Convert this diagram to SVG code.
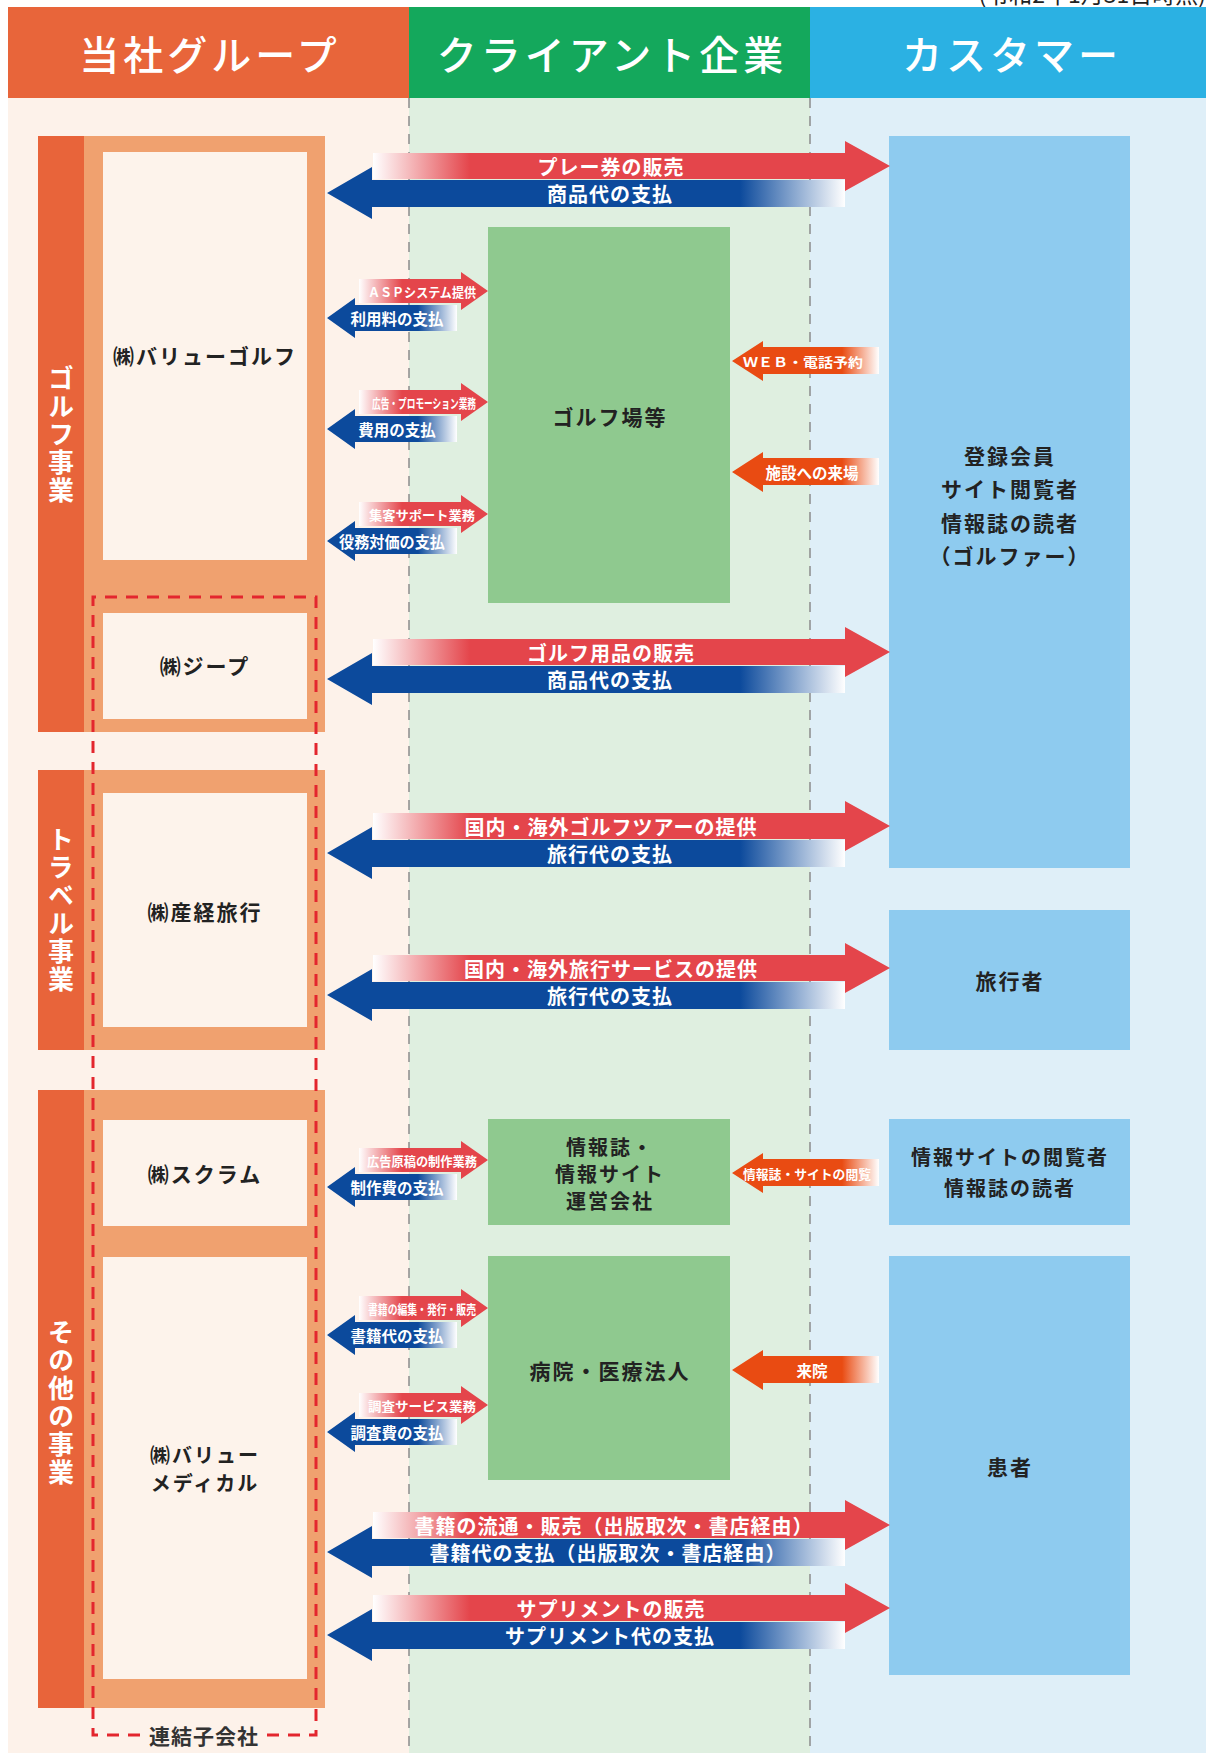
<svg xmlns="http://www.w3.org/2000/svg" width="1206" height="1753" viewBox="0 0 1206 1753">
<defs>
<style>
.hd{font-family:"Noto Sans CJK JP","Noto Sans",sans-serif;font-size:40px;font-weight:500;fill:#fff;text-anchor:middle;dominant-baseline:central;letter-spacing:4px}
.vt{font-family:"Noto Sans CJK JP","Noto Sans",sans-serif;font-size:26px;font-weight:700;fill:#fff;text-anchor:middle;writing-mode:vertical-rl;letter-spacing:2px}
.nd{font-family:"Noto Sans CJK JP","Noto Sans",sans-serif;font-size:21px;font-weight:700;fill:#222;text-anchor:middle;dominant-baseline:central;letter-spacing:2px}
.nd2{font-family:"Noto Sans CJK JP","Noto Sans",sans-serif;font-size:20px;font-weight:700;fill:#222;text-anchor:middle;dominant-baseline:central;letter-spacing:2px}
.bl{font-family:"Noto Sans CJK JP","Noto Sans",sans-serif;font-size:20px;font-weight:700;fill:#fff;text-anchor:middle;dominant-baseline:central;letter-spacing:1px}
.sl{font-family:"Noto Sans CJK JP","Noto Sans",sans-serif;font-size:13px;font-weight:700;fill:#fff;text-anchor:middle;dominant-baseline:central}
.sb{font-family:"Noto Sans CJK JP","Noto Sans",sans-serif;font-size:15.5px;font-weight:700;fill:#fff;text-anchor:middle;dominant-baseline:central}
.bar{fill:#E8643A}
.frame{fill:#F0A16F}
.inner{fill:#FDF3EB}
.gbox{fill:#8FC98F}
.cbox{fill:#8ECBEF}
.gl{stroke:#8c8c8c;stroke-width:1.5;stroke-dasharray:10 8;fill:none}
</style>
<linearGradient id="gRed" gradientUnits="userSpaceOnUse" x1="373" y1="0" x2="470" y2="0"><stop offset="0" stop-color="#fff"/><stop offset="1" stop-color="#E4454B"/></linearGradient>
<linearGradient id="gBlue" gradientUnits="userSpaceOnUse" x1="740" y1="0" x2="845" y2="0"><stop offset="0" stop-color="#0C4A9C"/><stop offset="1" stop-color="#fff"/></linearGradient>
<linearGradient id="sRed" gradientUnits="userSpaceOnUse" x1="359" y1="0" x2="402" y2="0"><stop offset="0" stop-color="#fff"/><stop offset="1" stop-color="#E4454B"/></linearGradient>
<linearGradient id="sBlue" gradientUnits="userSpaceOnUse" x1="418" y1="0" x2="457" y2="0"><stop offset="0" stop-color="#0C4A9C"/><stop offset="1" stop-color="#fff"/></linearGradient>
<linearGradient id="sOr" gradientUnits="userSpaceOnUse" x1="842" y1="0" x2="879" y2="0"><stop offset="0" stop-color="#E94B12"/><stop offset="1" stop-color="#fff"/></linearGradient>
</defs>

<rect x="0" y="0" width="1206" height="1753" fill="#fff"/>
<text x="1206" y="3" font-family="'Noto Sans CJK JP','Noto Sans',sans-serif" font-size="23" fill="#222" text-anchor="end">(令和2年1月31日時点)</text>

<!-- header -->
<g id="header">
<rect x="8" y="7" width="401" height="91" fill="#E8653A"/>
<rect x="409" y="7" width="401" height="91" fill="#14A85C"/>
<rect x="810" y="7" width="396" height="91" fill="#2BB1E3"/>
<text class="hd" x="210" y="53">当社グループ</text>
<text class="hd" x="612" y="53">クライアント企業</text>
<text class="hd" x="1012" y="53">カスタマー</text>
</g>

<!-- body backgrounds -->
<g id="columns">
<rect x="8" y="98" width="401" height="1655" fill="#FDF2EA"/>
<rect x="409" y="98" width="401" height="1655" fill="#DFEFE0"/>
<rect x="810" y="98" width="396" height="1655" fill="#DFEFF8"/>
<line class="gl" x1="409" y1="98" x2="409" y2="1753"/>
<line class="gl" x1="810" y1="98" x2="810" y2="1753"/>
</g>

<!-- golf section -->
<g id="golf-section">
<rect class="bar" x="38" y="136" width="46" height="596"/>
<rect class="frame" x="84" y="136" width="241" height="596"/>
<text class="vt" x="61" y="435">ゴルフ事業</text>
</g>
<g id="value-golf">
<rect class="inner" x="103" y="152" width="204" height="408"/>
<text class="nd" x="205" y="355">㈱バリューゴルフ</text>
</g>
<g id="jeep">
<rect class="inner" x="103" y="613" width="204" height="106"/>
<text class="nd" x="205" y="665">㈱ジープ</text>
</g>

<!-- travel section -->
<g id="travel-section">
<rect class="bar" x="38" y="770" width="46" height="280"/>
<rect class="frame" x="84" y="770" width="241" height="280"/>
<text class="vt" x="61" y="910">トラベル事業</text>
</g>
<g id="sankei">
<rect class="inner" x="103" y="793" width="204" height="234"/>
<text class="nd" x="205" y="911">㈱産経旅行</text>
</g>

<!-- other section -->
<g id="other-section">
<rect class="bar" x="38" y="1090" width="46" height="618"/>
<rect class="frame" x="84" y="1090" width="241" height="618"/>
<text class="vt" x="61" y="1403">その他の事業</text>
</g>
<g id="scrum">
<rect class="inner" x="103" y="1120" width="204" height="106"/>
<text class="nd" x="205" y="1173">㈱スクラム</text>
</g>
<g id="value-medical">
<rect class="inner" x="103" y="1257" width="204" height="422"/>
<text class="nd2" x="205" y="1454">㈱バリュー</text>
<text class="nd2" x="205" y="1482">メディカル</text>
</g>

<!-- consolidated subsidiaries -->
<g id="consolidated">
<path d="M140,1735 H93 V597 H316 V1735 H267" fill="none" stroke="#E3262E" stroke-width="3" stroke-dasharray="12 9"/>
<text x="204" y="1735" font-family="'Noto Sans CJK JP','Noto Sans',sans-serif" font-size="21" font-weight="700" fill="#333" text-anchor="middle" dominant-baseline="central" letter-spacing="1">連結子会社</text>
</g>

<!-- client column -->
<g id="golf-course">
<rect class="gbox" x="488" y="227" width="242" height="376"/>
<text class="nd" x="610" y="416">ゴルフ場等</text>
</g>
<g id="info-site-co">
<rect class="gbox" x="488" y="1119" width="242" height="106"/>
<text class="nd2" x="610" y="1146">情報誌・</text>
<text class="nd2" x="610" y="1173">情報サイト</text>
<text class="nd2" x="610" y="1200">運営会社</text>
</g>
<g id="hospital">
<rect class="gbox" x="488" y="1256" width="242" height="224"/>
<text class="nd" x="610" y="1370">病院・医療法人</text>
</g>

<!-- customer column -->
<g id="golfers">
<rect class="cbox" x="889" y="136" width="241" height="732"/>
<text class="nd" x="1010" y="455">登録会員</text>
<text class="nd" x="1010" y="488">サイト閲覧者</text>
<text class="nd" x="1010" y="522">情報誌の読者</text>
<text class="nd" x="1010" y="555">（ゴルファー）</text>
</g>
<g id="travelers">
<rect class="cbox" x="889" y="910" width="241" height="140"/>
<text class="nd" x="1010" y="980">旅行者</text>
</g>
<g id="readers">
<rect class="cbox" x="889" y="1119" width="241" height="106"/>
<text class="nd2" x="1010" y="1156">情報サイトの閲覧者</text>
<text class="nd2" x="1010" y="1187">情報誌の読者</text>
</g>
<g id="patients">
<rect class="cbox" x="889" y="1256" width="241" height="419"/>
<text class="nd" x="1010" y="1466">患者</text>
</g>

<!-- connectors -->
<g id="connectors">
<!-- big pair 1 y=166 -->
<path d="M845,180 L372,180 L372,167 L327,193 L372,219 L372,207 L845,207 Z" fill="url(#gBlue)"/>
<path d="M373,153 L845,153 L845,141 L890,166 L845,191 L845,179 L373,179 Z" fill="url(#gRed)"/>
<text class="bl" x="611" y="166">プレー券の販売</text>
<text class="bl" x="610" y="193">商品代の支払</text>
<!-- big pair 2 y=652 -->
<path d="M845,666 L372,666 L372,653 L327,679 L372,705 L372,693 L845,693 Z" fill="url(#gBlue)"/>
<path d="M373,639 L845,639 L845,627 L890,652 L845,677 L845,665 L373,665 Z" fill="url(#gRed)"/>
<text class="bl" x="611" y="652">ゴルフ用品の販売</text>
<text class="bl" x="610" y="679">商品代の支払</text>
<!-- big pair 3 y=826 -->
<path d="M845,840 L372,840 L372,827 L327,853 L372,879 L372,867 L845,867 Z" fill="url(#gBlue)"/>
<path d="M373,813 L845,813 L845,801 L890,826 L845,851 L845,839 L373,839 Z" fill="url(#gRed)"/>
<text class="bl" x="611" y="826">国内・海外ゴルフツアーの提供</text>
<text class="bl" x="610" y="853">旅行代の支払</text>
<!-- big pair 4 y=968 -->
<path d="M845,982 L372,982 L372,969 L327,995 L372,1021 L372,1009 L845,1009 Z" fill="url(#gBlue)"/>
<path d="M373,955 L845,955 L845,943 L890,968 L845,993 L845,981 L373,981 Z" fill="url(#gRed)"/>
<text class="bl" x="611" y="968">国内・海外旅行サービスの提供</text>
<text class="bl" x="610" y="995">旅行代の支払</text>
<!-- big pair 5 y=1525 -->
<path d="M845,1539 L372,1539 L372,1526 L327,1552 L372,1578 L372,1566 L845,1566 Z" fill="url(#gBlue)"/>
<path d="M373,1512 L845,1512 L845,1500 L890,1525 L845,1550 L845,1538 L373,1538 Z" fill="url(#gRed)"/>
<text class="bl" x="614" y="1525">書籍の流通・販売（出版取次・書店経由）</text>
<text class="bl" x="608" y="1552">書籍代の支払（出版取次・書店経由）</text>
<!-- big pair 6 y=1608 -->
<path d="M845,1622 L372,1622 L372,1609 L327,1635 L372,1661 L372,1649 L845,1649 Z" fill="url(#gBlue)"/>
<path d="M373,1595 L845,1595 L845,1583 L890,1608 L845,1633 L845,1621 L373,1621 Z" fill="url(#gRed)"/>
<text class="bl" x="611" y="1608">サプリメントの販売</text>
<text class="bl" x="610" y="1635">サプリメント代の支払</text>

<!-- small pairs -->
<path d="M359,279 L461,279 L461,272 L488,291 L461,310 L461,303 L359,303 Z" fill="url(#sRed)"/>
<path d="M457,305 L355,305 L355,298 L327,318 L355,338 L355,331 L457,331 Z" fill="url(#sBlue)"/>
<text class="sl" x="422" y="291" textLength="108" lengthAdjust="spacingAndGlyphs">ＡＳＰシステム提供</text>
<text class="sb" x="397" y="318">利用料の支払</text>

<path d="M359,390 L461,390 L461,383 L488,402 L461,421 L461,414 L359,414 Z" fill="url(#sRed)"/>
<path d="M457,416 L355,416 L355,409 L327,429 L355,449 L355,442 L457,442 Z" fill="url(#sBlue)"/>
<text class="sl" x="424" y="402" textLength="104" lengthAdjust="spacingAndGlyphs">広告・プロモーション業務</text>
<text class="sb" x="397" y="429">費用の支払</text>

<path d="M359,502 L461,502 L461,495 L488,514 L461,533 L461,526 L359,526 Z" fill="url(#sRed)"/>
<path d="M457,528 L355,528 L355,521 L327,541 L355,561 L355,554 L457,554 Z" fill="url(#sBlue)"/>
<text class="sl" x="422" y="514" textLength="106" lengthAdjust="spacingAndGlyphs">集客サポート業務</text>
<text class="sb" x="392" y="541" textLength="106" lengthAdjust="spacingAndGlyphs">役務対価の支払</text>

<path d="M359,1148 L461,1148 L461,1141 L488,1160 L461,1179 L461,1172 L359,1172 Z" fill="url(#sRed)"/>
<path d="M457,1174 L355,1174 L355,1167 L327,1187 L355,1207 L355,1200 L457,1200 Z" fill="url(#sBlue)"/>
<text class="sl" x="422" y="1160" textLength="110" lengthAdjust="spacingAndGlyphs">広告原稿の制作業務</text>
<text class="sb" x="397" y="1187">制作費の支払</text>

<path d="M359,1296 L461,1296 L461,1289 L488,1308 L461,1327 L461,1320 L359,1320 Z" fill="url(#sRed)"/>
<path d="M457,1322 L355,1322 L355,1315 L327,1335 L355,1355 L355,1348 L457,1348 Z" fill="url(#sBlue)"/>
<text class="sl" x="422" y="1308" textLength="108" lengthAdjust="spacingAndGlyphs">書籍の編集・発行・販売</text>
<text class="sb" x="397" y="1335">書籍代の支払</text>

<path d="M359,1393 L461,1393 L461,1386 L488,1405 L461,1424 L461,1417 L359,1417 Z" fill="url(#sRed)"/>
<path d="M457,1419 L355,1419 L355,1412 L327,1432 L355,1452 L355,1445 L457,1445 Z" fill="url(#sBlue)"/>
<text class="sl" x="422" y="1405" textLength="108" lengthAdjust="spacingAndGlyphs">調査サービス業務</text>
<text class="sb" x="397" y="1432">調査費の支払</text>

<!-- right orange arrows -->
<path d="M879,347 L763,347 L763,341 L732,361 L763,381 L763,374 L879,374 Z" fill="url(#sOr)"/>
<text class="sl" x="803" y="361" font-size="15" textLength="120" lengthAdjust="spacingAndGlyphs">ＷＥＢ・電話予約</text>
<path d="M879,458 L763,458 L763,452 L732,472 L763,492 L763,485 L879,485 Z" fill="url(#sOr)"/>
<text class="sb" x="812" y="472">施設への来場</text>
<path d="M879,1159 L763,1159 L763,1153 L732,1173 L763,1193 L763,1186 L879,1186 Z" fill="url(#sOr)"/>
<text class="sl" x="807" y="1173" textLength="128" lengthAdjust="spacingAndGlyphs">情報誌・サイトの閲覧</text>
<path d="M879,1356 L763,1356 L763,1350 L732,1370 L763,1390 L763,1383 L879,1383 Z" fill="url(#sOr)"/>
<text class="sb" x="812" y="1370">来院</text>
</g>
</svg>
